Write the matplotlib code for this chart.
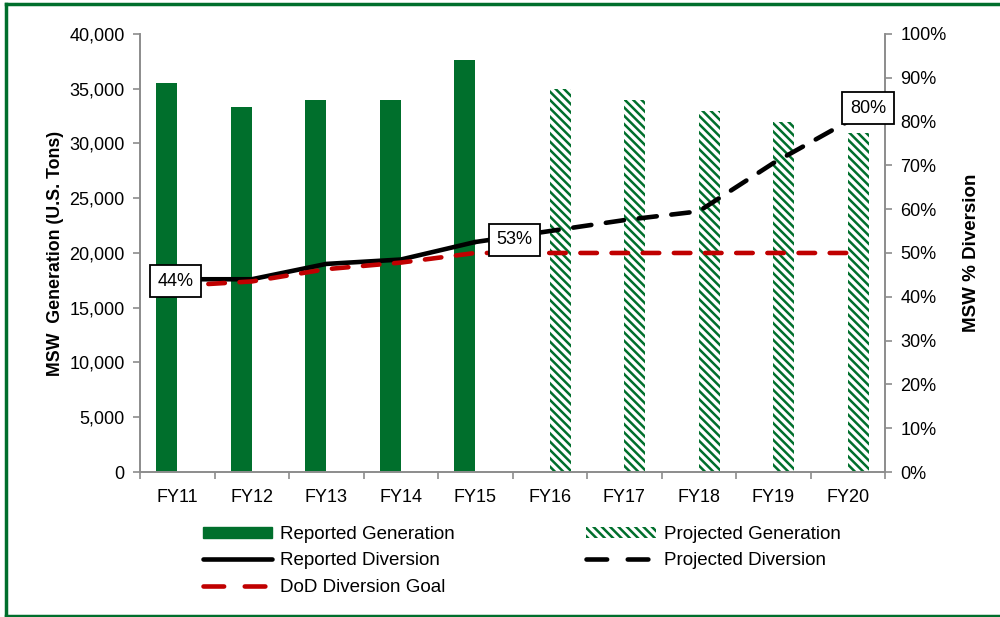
import numpy as np
import matplotlib
matplotlib.use('agg')
from matplotlib import pyplot as plt
from matplotlib.lines import Line2D
from matplotlib.ticker import FuncFormatter, MultipleLocator

years = ['FY11', 'FY12', 'FY13', 'FY14', 'FY15', 'FY16', 'FY17', 'FY18', 'FY19', 'FY20']
reported_gen = [35500, 33300, 34000, 34000, 37600]
projected_gen = [35000, 34000, 33000, 32000, 31000]
reported_div = [44, 44, 47.5, 48.5, 52.5]
projected_div = [52.5, 55, 57.5, 59.5, 70.5, 80]
goal_div = [42.5, 43.5, 46.3, 47.8, 50, 50, 50, 50, 50, 50]

GREEN = '#006f2c'
RED = '#c00000'
GRAY = '#8c8c8c'
FS = 13

plt.rcParams['font.family'] = ['Liberation Sans', 'DejaVu Sans']
plt.rcParams['hatch.linewidth'] = 1.8
plt.rcParams['hatch.color'] = GREEN

fig = plt.figure(figsize=(10, 6.17), dpi=100)
ax = fig.add_axes([0.14, 0.235, 0.745, 0.71])
ax2 = ax.twinx()

x = np.arange(len(years))
width = 0.28
ax.bar(x[:5] - width / 2, reported_gen, width, color=GREEN, zorder=2)
ax.bar(x[5:] + width / 2, projected_gen, width, color='white', edgecolor=GREEN,
       linewidth=0, hatch='\\\\\\\\', zorder=2)

ax.set_xlim(-0.5, len(years) - 0.5)
ax.set_ylim(0, 40000)
ax.yaxis.set_major_locator(MultipleLocator(5000))
ax.yaxis.set_major_formatter(FuncFormatter(lambda v, p: f'{int(v):,}'))
ax.set_xticks(x)
ax.set_xticklabels(years)
ax.set_xticks(np.arange(-0.5, len(years)), minor=True)
ax.tick_params(axis='x', which='major', length=0, pad=12, labelsize=FS)
ax.tick_params(axis='x', which='minor', length=5, color=GRAY, width=1.2)
ax.tick_params(axis='y', length=5, color=GRAY, width=1.2, labelsize=FS, pad=6)
ax.set_ylabel('MSW  Generation (U.S. Tons)', fontsize=12.8, fontweight='bold', labelpad=4)

ax2.set_ylim(0, 100)
ax2.yaxis.set_major_locator(MultipleLocator(10))
ax2.yaxis.set_major_formatter(FuncFormatter(lambda v, p: f'{int(v)}%'))
ax2.tick_params(axis='y', length=5, color=GRAY, width=1.2, labelsize=FS, pad=6)
ax2.set_ylabel('MSW % Diversion', fontsize=13.5, fontweight='bold', labelpad=12)

for a in (ax, ax2):
    a.spines['top'].set_visible(False)
    for side in ('left', 'right', 'bottom'):
        a.spines[side].set_color(GRAY)
        a.spines[side].set_linewidth(1.2)

lw = 3.3
ax2.plot(x[:5], reported_div, color='black', lw=lw, solid_capstyle='round', zorder=3)
ax2.plot(x[4:], projected_div, color='black', lw=lw, dashes=(4, 3.2),
         dash_capstyle='round', zorder=3)
ax2.plot(x, goal_div, color=RED, lw=lw, dashes=(3.6, 3.2),
         dash_capstyle='round', zorder=4)

box = dict(boxstyle='square,pad=0.42', facecolor='white', edgecolor='black', linewidth=1.3)
ax2.text(x[0] - 0.02, reported_div[0] - 0.4, '44%', ha='center', va='center',
         fontsize=FS, bbox=box, zorder=5)
ax2.text(x[4] + 0.53, 53, '53%', ha='center', va='center', fontsize=FS, bbox=box, zorder=5)
ax2.text(x[9] + 0.27, 83, '80%', ha='center', va='center', fontsize=FS, bbox=box, zorder=5)

handles = [
    plt.Rectangle((0, 0), 1, 1, color=GREEN),
    Line2D([], [], color='black', lw=lw, solid_capstyle='round'),
    Line2D([], [], color=RED, lw=lw, dashes=(4.5, 4.5), dash_capstyle='round'),
    plt.Rectangle((0, 0), 1, 1, facecolor='white', edgecolor=GREEN, linewidth=0, hatch='\\\\\\\\'),
    Line2D([], [], color='black', lw=lw, dashes=(4.5, 4.5), dash_capstyle='round'),
]
labels = ['Reported Generation', 'Reported Diversion', 'DoD Diversion Goal',
          'Projected Generation', 'Projected Diversion']
fig.legend(handles, labels, ncol=2, loc='upper left', bbox_to_anchor=(0.186, 0.175),
           frameon=False, fontsize=13.5, handlelength=3.7, handleheight=0.5,
           columnspacing=7.0, labelspacing=0.5, handletextpad=0.43)

# green frame around the figure
fig.add_artist(Line2D([0.0055, 0.0055], [0.001, 0.993], transform=fig.transFigure,
                      color=GREEN, lw=2.5))
fig.add_artist(Line2D([0.0055, 1.0], [0.993, 0.993], transform=fig.transFigure,
                      color=GREEN, lw=2.5))
fig.add_artist(Line2D([0.0055, 1.0], [0.002, 0.002], transform=fig.transFigure,
                      color=GREEN, lw=2.5))

fig.savefig('out.png', dpi=100)
